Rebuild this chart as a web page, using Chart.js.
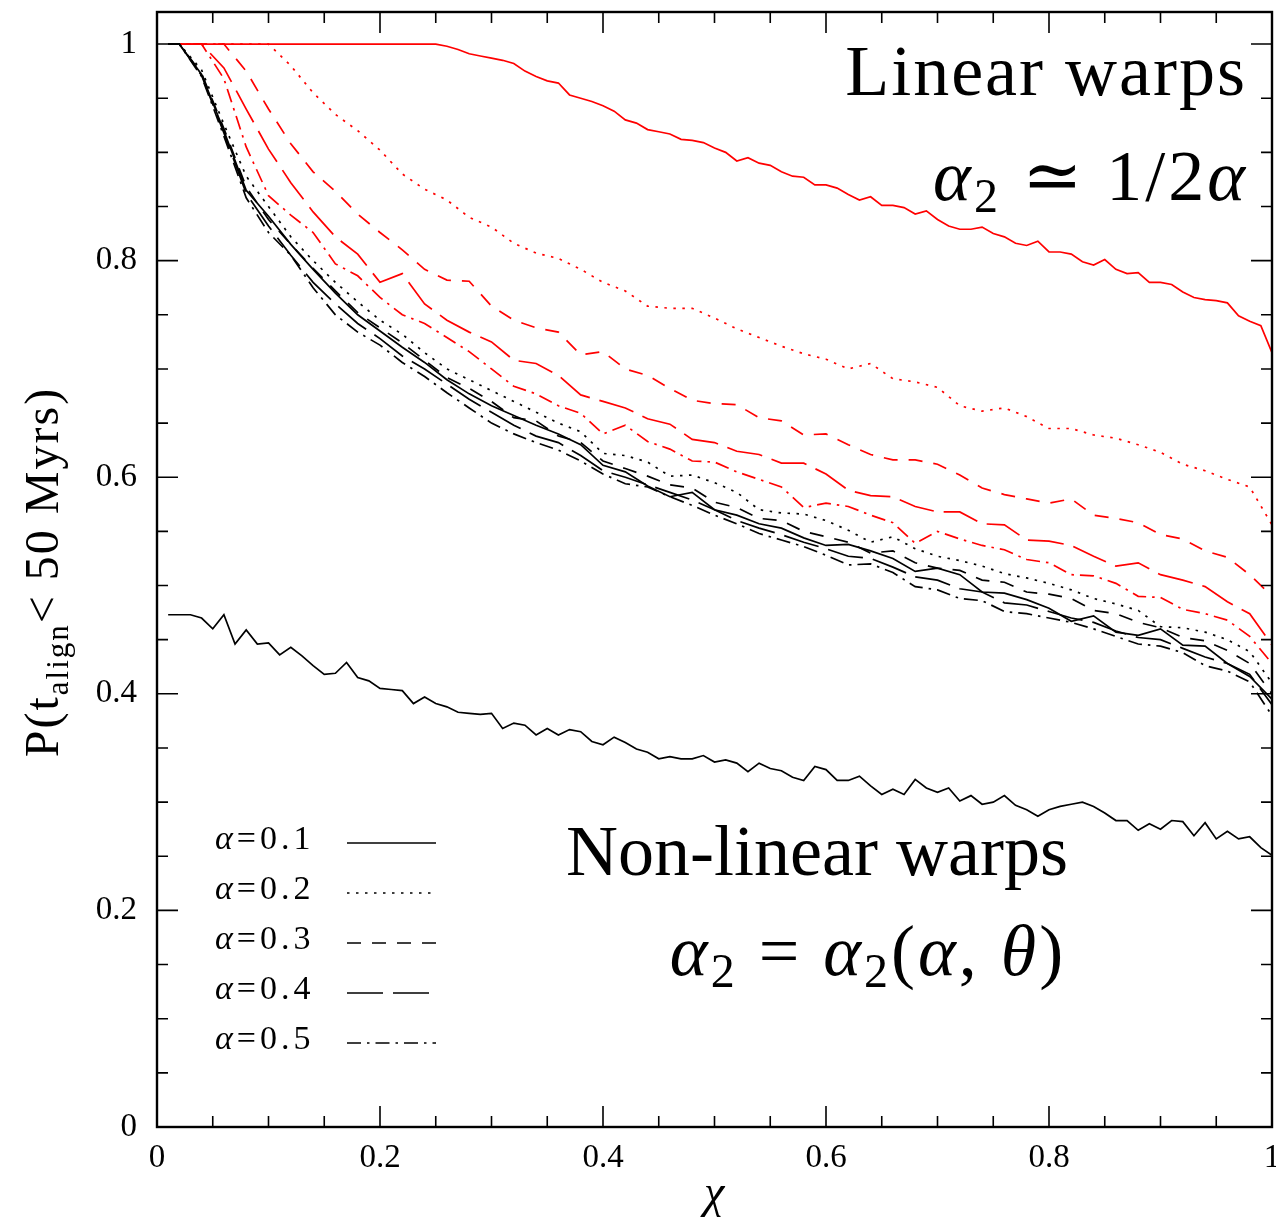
<!DOCTYPE html>
<html lang="en">
<head>
  <meta charset="utf-8">
  <title>Alignment probability against chi</title>
  <style>
    html, body { margin: 0; padding: 0; background: #fff; }
    canvas { display: block; }
  </style>
</head>
<body>
  <canvas id="chart" width="1276" height="1219"></canvas>
  <script src="https://cdn.jsdelivr.net/npm/chart.js@4.4.1/dist/chart.umd.min.js"></script>
  <script>
    // chi grids: the fine one is used by the two jagged solid curves
    const chiFine = Array.from({ length: 100 }, (_, i) => (i + 1) / 100);
    const chiCoarse = [0.01].concat(Array.from({ length: 50 }, (_, i) => (i + 1) / 50));

    // linear warps (red), one curve per alpha
    const linA01 = [
      1, 1, 1, 1, 1, 1, 1, 1, 1, 1,
      1, 1, 1, 1, 1, 1, 1, 1, 1, 1,
      1, 1, 1, 1, 1, .998, .995, .991, .989, .987,
      .985, .982, .975, .970, .966, .964, .953, .950, .947, .943,
      .938, .930, .927, .921, .919, .917, .912, .911, .909, .904,
      .900, .892, .895, .890, .888, .882, .878, .877, .870, .870,
      .867, .861, .856, .859, .851, .851, .849, .843, .846, .838,
      .832, .829, .829, .831, .825, .822, .816, .814, .818, .808,
      .808, .806, .799, .796, .801, .792, .788, .789, .780, .780,
      .778, .771, .766, .764, .763, .761, .749, .744, .740, .715
    ];
    const linA02 = [1, 1,
      1, 1, 1, 1, .980, .955, .935, .920, .902,
      .880, .866, .856, .840, .831, .816, .807, .802, .792, .780,
      .772, .758, .756, .756, .747, .737, .729, .721, .714, .709,
      .700, .705, .691, .688, .683, .666, .661, .664, .656, .645,
      .645, .639, .636, .630, .623, .612, .606, .598, .591, .556
    ];
    const linA03 = [1, 1,
      1, 1, .975, .940, .908, .882, .864, .843, .826,
      .810, .792, .782, .781, .758, .745, .738, .734, .713, .716,
      .700, .694, .682, .671, .668, .667, .655, .652, .639, .640,
      .630, .621, .616, .616, .612, .602, .590, .584, .580, .576,
      .580, .565, .562, .558, .547, .543, .532, .526, .510, .490
    ];
    const linA04 = [1, 1,
      1, .978, .940, .903, .872, .845, .822, .806, .780,
      .788, .760, .745, .734, .725, .708, .705, .694, .676, .670,
      .664, .654, .649, .635, .632, .624, .621, .613, .613, .603,
      .588, .583, .582, .573, .568, .568, .557, .556, .542, .541,
      .537, .527, .518, .521, .510, .505, .499, .485, .474, .445
    ];
    const linA05 = [1, 1,
      1, .968, .905, .860, .842, .826, .797, .786, .766,
      .750, .742, .729, .716, .700, .684, .677, .666, .659, .640,
      .648, .633, .626, .615, .614, .605, .598, .591, .572, .576,
      .573, .565, .558, .539, .550, .543, .537, .533, .524, .521,
      .510, .509, .502, .490, .489, .478, .474, .468, .453, .428
    ];

    // non-linear warps (black)
    const nonA01 = [1, 1,
      .972, .920, .865, .841, .815, .792, .770, .750, .735,
      .720, .706, .690, .677, .666, .657, .648, .640, .630, .611,
      .605, .592, .582, .586, .570, .565, .557, .553, .544, .537,
      .538, .532, .525, .513, .516, .510, .494, .493, .487, .479,
      .467, .472, .457, .454, .460, .445, .444, .428, .416, .395
    ];
    const nonA02 = [1, 1,
      .976, .926, .878, .850, .822, .800, .780, .762, .745,
      .732, .715, .700, .690, .680, .670, .660, .650, .642, .622,
      .620, .614, .601, .602, .595, .586, .570, .567, .566, .560,
      .551, .540, .545, .534, .527, .523, .518, .511, .507, .502,
      .496, .488, .483, .477, .462, .461, .457, .450, .439, .410
    ];
    const nonA03 = [1, 1,
      .973, .922, .868, .838, .815, .793, .772, .752, .738,
      .724, .708, .692, .682, .670, .655, .652, .638, .632, .615,
      .608, .601, .593, .590, .577, .572, .562, .560, .550, .545,
      .540, .530, .532, .521, .516, .514, .505, .503, .494, .492,
      .488, .477, .474, .466, .461, .452, .449, .440, .428, .400
    ];
    const nonA04 = [1, 1,
      .971, .918, .862, .832, .805, .780, .760, .742, .728,
      .712, .700, .686, .672, .660, .648, .638, .632, .620, .606,
      .600, .593, .586, .579, .570, .560, .553, .547, .540, .534,
      .527, .525, .517, .508, .505, .497, .494, .484, .482, .476,
      .470, .466, .458, .452, .450, .442, .434, .428, .418, .390
    ];
    const nonA05 = [1, 1,
      .970, .915, .858, .826, .805, .775, .750, .734, .722,
      .706, .693, .678, .664, .650, .640, .632, .625, .615, .603,
      .594, .591, .582, .574, .565, .557, .548, .542, .536, .528,
      .519, .520, .512, .499, .496, .488, .486, .476, .474, .470,
      .466, .460, .453, .446, .444, .438, .426, .421, .411, .380
    ];
    // lower solid branch
    const lowerBranch = [
      .473, .473, .473, .470, .460, .473, .446, .459, .446, .447,
      .436, .443, .435, .426, .418, .419, .429, .415, .412, .405,
      .404, .403, .391, .397, .391, .388, .383, .382, .381, .382,
      .368, .373, .371, .362, .368, .362, .367, .365, .356, .353,
      .360, .355, .349, .346, .340, .342, .340, .340, .343, .337,
      .339, .336, .328, .336, .331, .329, .323, .320, .333, .330,
      .320, .320, .324, .315, .307, .312, .307, .321, .313, .309,
      .313, .301, .306, .298, .300, .306, .297, .293, .287, .293,
      .296, .298, .300, .296, .290, .283, .283, .274, .280, .275,
      .283, .282, .269, .281, .266, .273, .266, .268, .258, .251
    ];

    const alphaLabels = ['0.1', '0.2', '0.3', '0.4', '0.5'];
    const dashStyles = [[], [2.5, 6.5], [14, 11], [36, 10], [14, 6, 2.5, 6]];

    const RED = '#ff0000';
    const BLACK = '#000000';
    const serif = '"Liberation Serif", "DejaVu Serif", serif';

    const pts = (xs, ys) => xs.map((x, i) => ({ x: x, y: ys[i] }));

    function curve(label, xs, ys, color, dash) {
      return {
        label: label,
        data: pts(xs, ys),
        borderColor: color,
        borderWidth: 1.7,
        borderDash: dash,
        pointRadius: 0,
        tension: 0,
        fill: false
      };
    }

    const linear = [linA01, linA02, linA03, linA04, linA05];
    const nonLinear = [nonA01, nonA02, nonA03, nonA04, nonA05];

    const datasets = [];
    nonLinear.forEach((ys, i) => {
      datasets.push(curve('non-linear α=' + alphaLabels[i], chiCoarse, ys, BLACK, dashStyles[i]));
    });
    datasets.push(curve('non-linear lower', chiFine, lowerBranch, BLACK, []));
    linear.forEach((ys, i) => {
      const xs = i === 0 ? chiFine : chiCoarse;
      datasets.push(curve('linear α=' + alphaLabels[i], xs, ys, RED, dashStyles[i]));
    });

    // frame plus inward ticks on all four sides
    const frameTicks = {
      id: 'frameTicks',
      afterDatasetsDraw(chart) {
        const { ctx, chartArea: a, scales } = chart;
        const x = scales.x, y = scales.y;
        ctx.save();
        ctx.strokeStyle = '#000';
        ctx.setLineDash([]);
        ctx.lineWidth = 1.6;
        ctx.beginPath();
        for (let k = 0; k <= 20; k++) {
          const v = k / 20;
          const len = k % 4 === 0 ? 21 : 11;
          const px = x.getPixelForValue(v);
          const py = y.getPixelForValue(v);
          ctx.moveTo(px, a.bottom); ctx.lineTo(px, a.bottom - len);
          ctx.moveTo(px, a.top); ctx.lineTo(px, a.top + len);
          ctx.moveTo(a.left, py); ctx.lineTo(a.left + len, py);
          ctx.moveTo(a.right, py); ctx.lineTo(a.right - len, py);
        }
        ctx.stroke();
        ctx.lineWidth = 2.4;
        ctx.strokeRect(a.left, a.top, a.right - a.left, a.bottom - a.top);
        ctx.restore();
      }
    };

    // text pieces with their own font, laid out left to right
    function drawRuns(ctx, runs, x, y, align) {
      let total = 0;
      runs.forEach(r => { ctx.font = r.font; total += ctx.measureText(r.text).width; });
      let cx = align === 'right' ? x - total : (align === 'center' ? x - total / 2 : x);
      runs.forEach(r => {
        ctx.font = r.font;
        ctx.fillText(r.text, cx, y + (r.dy || 0));
        cx += ctx.measureText(r.text).width;
      });
    }

    const annotations = {
      id: 'annotations',
      afterDraw(chart) {
        const ctx = chart.ctx;
        const big = '72px ' + serif, bigIt = 'italic 72px ' + serif, sub = '48px ' + serif;
        ctx.save();
        ctx.fillStyle = '#000';
        ctx.textAlign = 'left';
        ctx.textBaseline = 'alphabetic';

        ctx.letterSpacing = '2px';
        drawRuns(ctx, [{ text: 'Linear warps', font: big }], 1247, 95, 'right');
        ctx.letterSpacing = '3px';
        drawRuns(ctx, [
          { text: 'α', font: bigIt }, { text: '2', font: sub, dy: 12 },
          { text: ' ≃ ', font: big }, { text: '1/2', font: big }, { text: 'α', font: bigIt }
        ], 1248, 200, 'right');

        ctx.letterSpacing = '0px';
        drawRuns(ctx, [{ text: 'Non-linear warps', font: big }], 817, 875, 'center');
        ctx.letterSpacing = '3px';
        drawRuns(ctx, [
          { text: 'α', font: bigIt }, { text: '2', font: sub, dy: 12 }, { text: ' = ', font: big },
          { text: 'α', font: bigIt }, { text: '2', font: sub, dy: 12 }, { text: '(', font: big },
          { text: 'α', font: bigIt }, { text: ', ', font: big }, { text: 'θ', font: bigIt },
          { text: ')', font: big }
        ], 868, 975, 'center');

        // legend: alpha values with their line styles
        ctx.letterSpacing = '4px';
        alphaLabels.forEach((lab, i) => {
          const base = 849 + i * 50;
          drawRuns(ctx, [
            { text: 'α', font: 'italic 34px ' + serif },
            { text: '=' + lab, font: '34px ' + serif }
          ], 215, base, 'left');
          ctx.strokeStyle = '#000';
          ctx.lineWidth = 1.7;
          ctx.setLineDash(dashStyles[i]);
          ctx.beginPath();
          ctx.moveTo(347, base - 6);
          ctx.lineTo(436, base - 6);
          ctx.stroke();
        });
        ctx.setLineDash([]);

        // axis titles
        ctx.letterSpacing = '2px';
        ctx.save();
        ctx.translate(58, 572);
        ctx.rotate(-Math.PI / 2);
        drawRuns(ctx, [
          { text: 'P(t', font: '48px ' + serif },
          { text: 'align', font: '31px ' + serif, dy: 10 },
          { text: '< 50 Myrs)', font: '48px ' + serif }
        ], 0, 0, 'center');
        ctx.restore();
        ctx.letterSpacing = '0px';
        drawRuns(ctx, [{ text: 'χ', font: 'italic 46px ' + serif }], 714, 1207, 'center');
        ctx.restore();
      }
    };

    const tickFont = { family: serif, size: 33 };
    const tickText = v => String(Number(v.toFixed(2)));

    new Chart(document.getElementById('chart').getContext('2d'), {
      type: 'line',
      data: { datasets: datasets },
      options: {
        responsive: false,
        animation: false,
        devicePixelRatio: 1,
        layout: { padding: { left: 0, right: 4, top: 12, bottom: 0 } },
        plugins: { legend: { display: false }, tooltip: { enabled: false } },
        scales: {
          x: {
            type: 'linear',
            min: 0,
            max: 1,
            grid: { display: false, drawTicks: false },
            border: { display: false },
            ticks: { stepSize: 0.2, color: '#000', font: tickFont, padding: 12, maxRotation: 0, callback: tickText },
            afterFit(s) { s.height = 92; s.paddingLeft = 0; s.paddingRight = 0; }
          },
          y: {
            type: 'linear',
            min: 0,
            max: 1.0296,
            grid: { display: false, drawTicks: false },
            border: { display: false },
            ticks: { stepSize: 0.2, includeBounds: false, color: '#000', font: tickFont, padding: 20, callback: tickText },
            afterFit(s) { s.width = 157; s.paddingTop = 0; s.paddingBottom = 0; }
          }
        }
      },
      plugins: [frameTicks, annotations]
    });
  </script>
</body>
</html>
